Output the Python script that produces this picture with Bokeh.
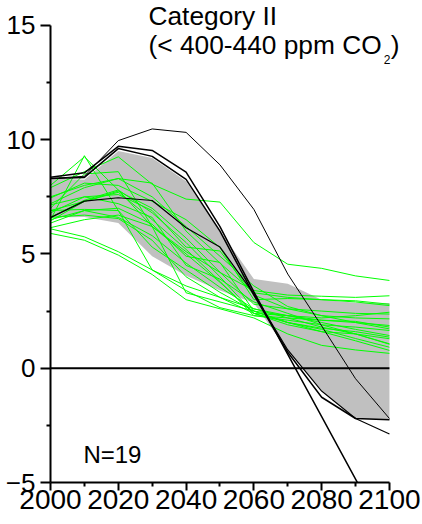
from bokeh.plotting import figure
from bokeh.models import Range1d, FixedTicker, Label
from bokeh.embed import file_html
from bokeh.resources import INLINE

years = [2000, 2010, 2020, 2030, 2040, 2050, 2060, 2070, 2080, 2090, 2100]

band_upper = [8.30, 8.25, 9.50, 9.20, 8.18, 6.00, 3.90, 3.70, 3.00, 2.87, 2.85]
band_lower = [6.60, 6.62, 6.35, 4.90, 4.05, 3.40, 2.85, 0.75, -0.95, -2.20, -2.25]

black_top = [8.30, 8.40, 9.96, 10.47, 10.32, 8.90, 6.95, 4.12, 1.85, -0.46, -2.20]
black_a = [8.36, 8.55, 9.71, 9.53, 8.58, 6.20, 3.34, 0.61, -2.12, -4.85, -7.60]
black_b = [8.30, 8.35, 9.61, 9.27, 8.26, 6.00, 3.20, 0.70, -1.27, -2.20, -2.25]
black_low = [6.59, 7.31, 7.46, 7.34, 6.15, 5.30, 3.25, 0.80, -1.00, -2.20, -2.88]

green_1 = [7.90, 8.60, 9.25, 8.05, 7.40, 7.27, 5.50, 4.55, 4.37, 4.04, 3.84]
green_2 = [6.50, 9.30, 6.90, 4.30, 3.60, 3.10, 2.60, 2.30, 2.00, 1.70, 1.43]
green_3 = [8.00, 9.25, 7.80, 6.20, 3.30, 2.90, 2.50, 2.30, 2.10, 2.00, 1.87]
green_4 = [7.50, 8.00, 8.30, 8.10, 6.00, 4.60, 3.30, 3.10, 3.00, 2.90, 2.74]
green_5 = [6.90, 7.30, 7.75, 7.00, 5.70, 4.20, 2.80, 2.60, 2.50, 2.40, 2.37]
green_6 = [6.60, 7.35, 7.80, 6.80, 5.50, 4.00, 2.40, 2.00, 1.70, 1.30, 0.92]
green_7 = [6.45, 7.30, 7.70, 6.50, 5.20, 3.80, 2.30, 2.20, 2.10, 2.05, 1.80]
green_8 = [7.15, 7.50, 7.60, 6.90, 5.30, 5.13, 3.20, 2.60, 2.30, 2.00, 1.72]
green_9 = [7.45, 8.10, 8.00, 7.30, 6.50, 5.28, 3.00, 3.05, 3.00, 2.95, 2.80]
green_10 = [6.35, 6.90, 7.00, 6.30, 4.90, 4.63, 2.50, 2.00, 1.60, 1.20, 0.78]
green_11 = [6.15, 6.50, 6.70, 6.20, 5.00, 3.76, 2.40, 2.30, 2.20, 2.30, 2.45]
green_12 = [6.50, 6.90, 6.60, 5.80, 4.60, 3.54, 2.60, 2.20, 1.80, 1.50, 1.07]
green_13 = [6.90, 6.95, 6.90, 5.30, 4.30, 3.32, 2.50, 2.00, 1.75, 1.60, 1.36]
green_14 = [6.10, 5.75, 5.10, 4.30, 3.40, 2.65, 2.30, 2.10, 1.90, 1.80, 1.65]
green_15 = [5.90, 5.60, 4.95, 4.10, 3.00, 2.60, 2.20, 1.50, 1.00, 0.80, 0.65]
green_16 = [7.00, 8.50, 8.60, 6.20, 5.10, 4.19, 3.40, 3.20, 3.15, 3.10, 3.17]
green_17 = [6.60, 6.70, 6.55, 5.60, 4.00, 3.10, 2.40, 1.90, 1.60, 1.50, 1.29]
green_18 = [7.20, 7.90, 8.30, 7.50, 6.20, 4.90, 3.60, 2.70, 2.30, 2.20, 2.16]
green_19 = [6.80, 7.50, 7.20, 6.60, 4.50, 3.90, 2.90, 2.40, 1.90, 1.50, 1.05]

green_series = [green_1, green_2, green_3, green_4, green_5, green_6, green_7,
                green_8, green_9, green_10, green_11, green_12, green_13,
                green_14, green_15, green_16, green_17, green_18, green_19]

zero_level = 0

x_ticks = [2000, 2020, 2040, 2060, 2080, 2100]
x_minor = [2010, 2030, 2050, 2070, 2090]
y_ticks = [-5, 0, 5, 10, 15]
y_minor = [-2.5, 2.5, 7.5, 12.5]

title_line1 = "Category II"
title_line2 = "(< 400-440 ppm CO"
title_sub = "2"
title_close = ")"
n_label = "N=19"

FONT = "Liberation Sans"

p = figure(width=422, height=524, x_range=Range1d(2000, 2109.75), y_range=Range1d(-5, 16.09),
           output_backend="svg", toolbar_location=None, title=None,
           min_border_left=50, min_border_right=0, min_border_top=0, min_border_bottom=42)
p.outline_line_color = None
p.xgrid.visible = False
p.ygrid.visible = False
p.background_fill_color = "white"

p.xaxis.ticker = FixedTicker(ticks=x_ticks, minor_ticks=x_minor)
p.yaxis.ticker = FixedTicker(ticks=y_ticks, minor_ticks=y_minor)
p.xaxis.bounds = (x_ticks[0], x_ticks[-1])
p.yaxis.bounds = (y_ticks[0], y_ticks[-1])
for ax in (p.xaxis, p.yaxis):
    ax.axis_line_width = 2
    ax.axis_line_color = "black"
    ax.major_tick_line_width = 2
    ax.minor_tick_line_width = 2
    ax.major_tick_line_color = "black"
    ax.minor_tick_line_color = "black"
    ax.major_tick_in = 0
    ax.minor_tick_in = 0
    ax.minor_tick_out = 4
    ax.major_label_text_font = FONT
    ax.major_label_text_color = "black"
p.xaxis.major_tick_out = 8
p.xaxis.major_label_text_font_size = "28px"
p.xaxis.major_label_standoff = -1
p.yaxis.major_tick_out = 10
p.yaxis.major_label_text_font_size = "26px"
p.yaxis.major_label_standoff = 5

p.varea(x=years, y1=band_lower, y2=band_upper, fill_color="#c0c0c0", fill_alpha=1.0)

for g in green_series:
    p.line(years, g, line_color="#00ff00", line_width=1)

p.line(years, black_top, line_color="black", line_width=1)
p.line(years, black_a, line_color="black", line_width=1.5)
p.line(years, black_b, line_color="black", line_width=1.5)
p.line(years, black_low, line_color="black", line_width=1.2)

p.line(years, [zero_level] * len(years), line_color="black", line_width=2)

def add_text(x, y, text, size):
    p.add_layout(Label(x=x, y=y, text=text, text_font=FONT, text_font_size=size,
                       text_color="black", text_baseline="alphabetic", text_align="left"))

add_text(2028.9, 15.39, title_line1, "26.3px")
add_text(2028.9, 14.13, title_line2, "26.3px")
add_text(2098.3, 13.52, title_sub, "12px")
add_text(2100.4, 14.13, title_close, "26.3px")
add_text(2009.7, -3.77, n_label, "24px")

open("out.html", "w").write(file_html(p, INLINE))
